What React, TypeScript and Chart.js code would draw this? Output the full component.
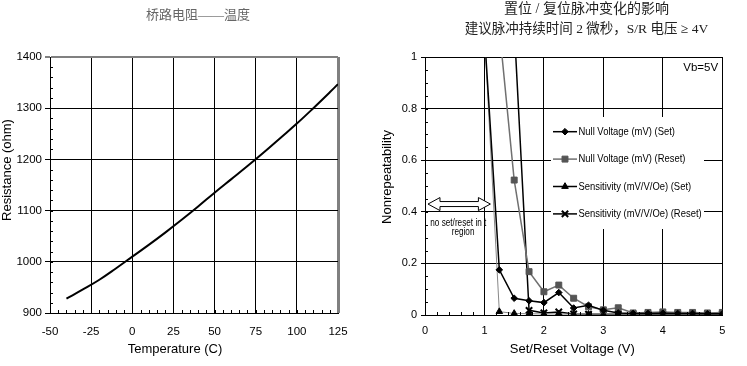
import React, { useEffect, useRef } from "react";
import { Chart, registerables } from "chart.js";

Chart.register(...registerables);

const SANS = '"Liberation Sans", Arial, Helvetica, sans-serif';
const SERIF_CJK = '"Liberation Serif", "Noto Sans CJK SC", serif';
const NARROW_SCALE = 0.82; // emulates the narrow face of the original

// ---------- Left chart: bridge resistance vs temperature ----------
const leftTitle = "桥路电阻——温度";
const leftXTitle = "Temperature (C)";
const leftYTitle = "Resistance (ohm)";
const temperatureC = [-40, -30, -20, -10, 0, 10, 20, 30, 40, 50, 60, 70, 80, 90, 100, 110, 120, 125];
const resistanceOhm = [928, 946, 965, 987, 1010, 1033, 1057, 1082, 1108, 1135, 1161, 1187, 1214, 1242, 1270, 1300, 1331, 1347];
const tempTicks = [-50, -25, 0, 25, 50, 75, 100, 125];
const resTicks = [900, 1000, 1100, 1200, 1300, 1400];

// ---------- Right chart: set/reset pulse effect ----------
const rightTitle1 = "置位 / 复位脉冲变化的影响";
const rightTitle2 = "建议脉冲持续时间 2 微秒，S/R 电压 ≥ 4V";
const rightXTitle = "Set/Reset Voltage (V)";
const rightYTitle = "Nonrepeatability";
const biasNote = "Vb=5V";
const regionNote1 = "no set/reset in t";
const regionNote2 = "region";
const voltageTicks = [0, 1, 2, 3, 4, 5];
const nonrepTicks = [0, 0.2, 0.4, 0.6, 0.8, 1];
const setResetVoltage = [1, 1.25, 1.5, 1.75, 2, 2.25, 2.5, 2.75, 3, 3.25, 3.5, 3.75, 4, 4.25, 4.5, 4.75, 5];
const nullVoltageSet = [1.09, 0.175, 0.065, 0.055, 0.048, 0.087, 0.027, 0.038, 0.018, 0.008, 0.006, 0.006, 0.007, 0.006, 0.006, 0.005, 0.005];
const nullVoltageReset = [null, 1.11, 0.523, 0.168, 0.09, 0.116, 0.065, 0.032, 0.02, 0.028, 0.008, 0.01, 0.012, 0.01, 0.01, 0.008, 0.01];
const sensitivitySet = [1.09, 0.013, 0.006, 0.005, 0.004, 0.004, 0.003, 0.003, 0.003, 0.003, 0.003, 0.003, 0.003, 0.003, 0.003, 0.003, 0.003];
const sensitivityReset = [null, null, 1.12, 0.018, 0.008, 0.012, 0.004, 0.003, 0.003, 0.003, 0.002, 0.002, 0.002, 0.002, 0.002, 0.002, 0.002];
const seriesLabels = [
  "Null Voltage (mV) (Set)",
  "Null Voltage (mV) (Reset)",
  "Sensitivity (mV/V/Oe) (Set)",
  "Sensitivity (mV/V/Oe) (Reset)",
];
// "no set/reset" arrow annotation, in data units
const arrowFromV = 0.05;
const arrowToV = 1.1;
const arrowAt = 0.43;

function toPoints(xs: number[], ys: (number | null)[]) {
  return xs.map((x, i) => ({ x, y: ys[i] })).filter((p) => p.y !== null);
}

function drawMarker(ctx: CanvasRenderingContext2D, style: string, x: number, y: number, r: number, fill: string, stroke: string, bw: number) {
  ctx.save();
  ctx.fillStyle = fill;
  ctx.strokeStyle = stroke;
  ctx.lineWidth = bw;
  ctx.beginPath();
  if (style === "rectRot") {
    ctx.moveTo(x, y - r);
    ctx.lineTo(x + r, y);
    ctx.lineTo(x, y + r);
    ctx.lineTo(x - r, y);
    ctx.closePath();
    ctx.fill();
    ctx.stroke();
  } else if (style === "rect") {
    const s = r * Math.SQRT1_2;
    ctx.rect(x - s, y - s, 2 * s, 2 * s);
    ctx.fill();
    ctx.stroke();
  } else if (style === "triangle") {
    for (let k = 0; k < 3; k++) {
      const a = (k * 2 * Math.PI) / 3;
      const px = x + Math.sin(a) * r;
      const py = y - Math.cos(a) * r;
      if (k === 0) ctx.moveTo(px, py);
      else ctx.lineTo(px, py);
    }
    ctx.closePath();
    ctx.fill();
    ctx.stroke();
  } else if (style === "crossRot") {
    const s = r * Math.SQRT1_2;
    ctx.moveTo(x - s, y - s);
    ctx.lineTo(x + s, y + s);
    ctx.moveTo(x + s, y - s);
    ctx.lineTo(x - s, y + s);
    ctx.stroke();
  }
  ctx.restore();
}

type TextItem = { text: string; x: number; y: number; font: string; color?: string; rotate?: number; data?: boolean; sx?: number };

function textPlugin(items: TextItem[]) {
  return {
    id: "texts",
    afterDraw(chart: any) {
      const ctx = chart.ctx as CanvasRenderingContext2D;
      items.forEach((it) => {
        let x = it.x;
        let y = it.y;
        if (it.data) {
          x = chart.scales.x.getPixelForValue(it.x);
          y = chart.scales.y.getPixelForValue(it.y);
        }
        ctx.save();
        ctx.font = it.font;
        ctx.fillStyle = it.color || "#000";
        ctx.textAlign = "center";
        ctx.textBaseline = "middle";
        ctx.translate(x, y);
        if (it.rotate) ctx.rotate(it.rotate);
        if (it.sx) ctx.scale(it.sx, 1);
        ctx.fillText(it.text, 0, 0);
        ctx.restore();
      });
    },
  };
}

function minorTickPlugin(xStep: number, yStep: number, len: number) {
  return {
    id: "minorTicks",
    afterDraw(chart: any) {
      const ctx = chart.ctx as CanvasRenderingContext2D;
      const xs = chart.scales.x;
      const ys = chart.scales.y;
      const { left, bottom } = chart.chartArea;
      ctx.save();
      ctx.strokeStyle = "#000";
      ctx.lineWidth = 1;
      ctx.beginPath();
      const nx = Math.round((xs.max - xs.min) / xStep);
      for (let k = 1; k < nx; k++) {
        const px = Math.round(xs.getPixelForValue(xs.min + k * xStep)) + 0.5;
        ctx.moveTo(px, bottom);
        ctx.lineTo(px, bottom - len);
      }
      const ny = Math.round((ys.max - ys.min) / yStep);
      for (let k = 1; k < ny; k++) {
        const py = Math.round(ys.getPixelForValue(ys.min + k * yStep)) + 0.5;
        ctx.moveTo(left, py);
        ctx.lineTo(left + len, py);
      }
      ctx.stroke();
      ctx.restore();
    },
  };
}

function leftConfig(): any {
  return {
    type: "line",
    data: {
      datasets: [
        {
          label: leftYTitle,
          data: toPoints(temperatureC, resistanceOhm),
          borderColor: "#000",
          borderWidth: 2,
          pointRadius: 0,
          tension: 0.4,
          fill: false,
        },
      ],
    },
    options: {
      responsive: false,
      animation: false,
      devicePixelRatio: 1,
      layout: { padding: { top: 57, right: 35, left: 0, bottom: 0 } },
      plugins: { legend: { display: false }, tooltip: { enabled: false }, title: { display: false } },
      scales: {
        x: {
          type: "linear",
          min: tempTicks[0],
          max: tempTicks[tempTicks.length - 1],
          afterBuildTicks: (s: any) => {
            s.ticks = tempTicks.map((v) => ({ value: v }));
          },
          afterFit: (s: any) => {
            s.height = 53;
          },
          ticks: {
            color: "#000",
            font: { family: SANS, size: 11.5 },
            padding: 12,
            maxRotation: 0,
            autoSkip: false,
            callback: (v: number) => String(v),
          },
          grid: {
            drawTicks: false,
            color: (c: any) => (c.tick && c.tick.value === 125 ? "#808080" : "#000"),
            lineWidth: (c: any) => (c.tick && c.tick.value === 125 ? 3 : 1),
          },
          border: { color: "#000", width: 1 },
        },
        y: {
          min: resTicks[0],
          max: resTicks[resTicks.length - 1],
          afterBuildTicks: (s: any) => {
            s.ticks = resTicks.map((v) => ({ value: v }));
          },
          afterFit: (s: any) => {
            s.width = 50;
          },
          ticks: { color: "#000", font: { family: SANS, size: 11.5 }, padding: 3, autoSkip: false, callback: (v: number) => String(v) },
          grid: {
            tickLength: 5,
            color: (c: any) => (c.tick && c.tick.value === 1400 ? "#808080" : "#000"),
            lineWidth: (c: any) => (c.tick && c.tick.value === 1400 ? 2 : 1),
          },
          border: { color: "#000", width: 1 },
        },
      },
    },
    plugins: [
      minorTickPlugin(5, 20, 3),
      textPlugin([
        { text: leftTitle, x: 198, y: 16, font: `13px ${SERIF_CJK}`, color: "#666" },
        { text: leftYTitle, x: 7.5, y: 170, font: `13px ${SANS}`, rotate: -Math.PI / 2 },
        { text: leftXTitle, x: 175, y: 349, font: `13px ${SANS}` },
      ]),
    ],
  };
}

const seriesStyles = [
  { data: nullVoltageSet, line: "#000", lw: 1.5, point: "rectRot", r: 3.3, fill: "#000", stroke: "#000", pbw: 1 },
  { data: nullVoltageReset, line: "#707070", lw: 1.5, point: "rect", r: 4.2, fill: "#555", stroke: "#555", pbw: 1 },
  { data: sensitivitySet, line: "#888", lw: 1, point: "triangle", r: 3.8, fill: "#000", stroke: "#000", pbw: 1 },
  { data: sensitivityReset, line: "#000", lw: 1.5, point: "crossRot", r: 4.5, fill: "#000", stroke: "#000", pbw: 2 },
];

function rightConfig(): any {
  const legend = {
    id: "boxLegend",
    afterDatasetsDraw(chart: any) {
      const ctx = chart.ctx as CanvasRenderingContext2D;
      ctx.save();
      ctx.fillStyle = "#fff";
      ctx.fillRect(177, 117, 153, 112);
      seriesStyles.forEach((st, i) => {
        const y = 131.7 + i * 27.4;
        ctx.strokeStyle = st.line === "#888" ? "#000" : st.line;
        ctx.lineWidth = 1.5;
        ctx.beginPath();
        ctx.moveTo(179, y);
        ctx.lineTo(203, y);
        ctx.stroke();
        drawMarker(ctx, st.point, 191, y, st.r, st.fill, st.stroke, st.pbw);
        ctx.save();
        ctx.fillStyle = "#000";
        ctx.font = `11.5px ${SANS}`;
        ctx.textAlign = "left";
        ctx.textBaseline = "middle";
        ctx.translate(204.5, y);
        ctx.scale(NARROW_SCALE, 1);
        ctx.fillText(seriesLabels[i], 0, 0);
        ctx.restore();
      });
      ctx.restore();
    },
  };
  const arrow = {
    id: "regionArrow",
    afterDraw(chart: any) {
      const ctx = chart.ctx as CanvasRenderingContext2D;
      const xs = chart.scales.x;
      const ys = chart.scales.y;
      const x0 = xs.getPixelForValue(arrowFromV);
      const x1 = xs.getPixelForValue(arrowToV);
      const y = ys.getPixelForValue(arrowAt);
      const hl = 12;
      const hh = 6.5;
      const sh = 2.5;
      ctx.save();
      ctx.beginPath();
      ctx.moveTo(x0, y);
      ctx.lineTo(x0 + hl, y - hh);
      ctx.lineTo(x0 + hl, y - sh);
      ctx.lineTo(x1 - hl, y - sh);
      ctx.lineTo(x1 - hl, y - hh);
      ctx.lineTo(x1, y);
      ctx.lineTo(x1 - hl, y + hh);
      ctx.lineTo(x1 - hl, y + sh);
      ctx.lineTo(x0 + hl, y + sh);
      ctx.lineTo(x0 + hl, y + hh);
      ctx.closePath();
      ctx.fillStyle = "#fff";
      ctx.fill();
      ctx.strokeStyle = "#000";
      ctx.lineWidth = 1;
      ctx.stroke();
      ctx.restore();
    },
  };
  return {
    type: "line",
    data: {
      datasets: seriesStyles.map((st, i) => ({
        label: seriesLabels[i],
        data: toPoints(setResetVoltage, st.data),
        borderColor: st.line,
        borderWidth: st.lw,
        pointStyle: st.point,
        pointRadius: st.r,
        pointBackgroundColor: st.fill,
        pointBorderColor: st.stroke,
        pointBorderWidth: st.pbw,
        tension: 0,
        fill: false,
      })),
    },
    options: {
      responsive: false,
      animation: false,
      devicePixelRatio: 1,
      layout: { padding: { top: 57, right: 24.7, left: 0, bottom: 0 } },
      plugins: { legend: { display: false }, tooltip: { enabled: false }, title: { display: false } },
      scales: {
        x: {
          type: "linear",
          min: voltageTicks[0],
          max: voltageTicks[voltageTicks.length - 1],
          afterBuildTicks: (s: any) => {
            s.ticks = voltageTicks.map((v) => ({ value: v }));
          },
          afterFit: (s: any) => {
            s.height = 51;
          },
          ticks: { color: "#000", font: { family: SANS, size: 11 }, padding: 9.5, maxRotation: 0, autoSkip: false },
          grid: { drawTicks: false, color: "#000", lineWidth: 1 },
          border: { color: "#000", width: 1 },
        },
        y: {
          min: nonrepTicks[0],
          max: nonrepTicks[nonrepTicks.length - 1],
          afterBuildTicks: (s: any) => {
            s.ticks = nonrepTicks.map((v) => ({ value: v }));
          },
          afterFit: (s: any) => {
            s.width = 51;
          },
          ticks: {
            color: "#000",
            font: { family: SANS, size: 11 },
            padding: 4,
            autoSkip: false,
            callback: (v: number) => String(Math.round(v * 10) / 10),
          },
          grid: { tickLength: 4, color: "#000", lineWidth: 1 },
          border: { color: "#000", width: 1 },
        },
      },
    },
    plugins: [
      legend,
      minorTickPlugin(0.2, 0.05, 3),
      arrow,
      textPlugin([
        { text: rightTitle1, x: 212.5, y: 9.5, font: `14px ${SERIF_CJK}`, color: "#222" },
        { text: rightTitle2, x: 212.5, y: 29, font: `13.5px ${SERIF_CJK}`, color: "#222" },
        { text: rightYTitle, x: 13.3, y: 177, font: `13px ${SANS}`, rotate: -Math.PI / 2 },
        { text: rightXTitle, x: 198.3, y: 349, font: `13px ${SANS}` },
        { text: biasNote, x: 326.7, y: 68, font: `11.5px ${SANS}` },
        { text: regionNote1, x: 0.56, y: 0.356, font: `10px ${SANS}`, data: true, sx: NARROW_SCALE },
        { text: regionNote2, x: 0.64, y: 0.32, font: `10px ${SANS}`, data: true, sx: NARROW_SCALE },
      ]),
    ],
  };
}

export default function App() {
  const leftRef = useRef<HTMLCanvasElement>(null);
  const rightRef = useRef<HTMLCanvasElement>(null);
  useEffect(() => {
    const c1 = new Chart(leftRef.current as HTMLCanvasElement, leftConfig());
    const c2 = new Chart(rightRef.current as HTMLCanvasElement, rightConfig());
    return () => {
      c1.destroy();
      c2.destroy();
    };
  }, []);
  return (
    <div style={{ position: "absolute", left: 0, top: 0, width: 747, height: 366, background: "#fff" }}>
      <canvas ref={leftRef} width={373} height={366} style={{ position: "absolute", left: 0, top: 0 }} />
      <canvas ref={rightRef} width={373} height={366} style={{ position: "absolute", left: 374, top: 0 }} />
    </div>
  );
}
